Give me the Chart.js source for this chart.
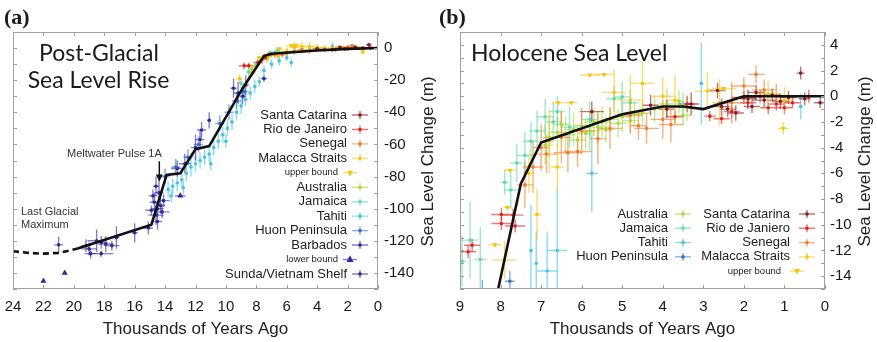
<!DOCTYPE html>
<html>
<head>
<meta charset="utf-8">
<script src="https://cdn.jsdelivr.net/npm/chart.js@4.4.1/dist/chart.umd.min.js"></script>
<style>
body { margin:0; background:#fff; width:877px; height:342px; position:relative; overflow:hidden; font-family:"Liberation Sans", Arial, sans-serif; }
canvas { position:absolute; top:0; }
#ca { left:0; }
#cb { left:440px; }
.lbl { position:absolute; white-space:nowrap; color:#1a1a1a; }
.pl { font-family:"Liberation Serif", serif; font-weight:bold; font-size:22px; }
.big { font-family:Lato, sans-serif; font-size:23px; }
.small { font-size:11px; color:#333; }
</style>
</head>
<body>
<canvas id="ca" width="440" height="342"></canvas>
<canvas id="cb" width="437" height="342"></canvas>
<div class="lbl pl" style="left:4px;top:4px">(a)</div>
<div class="lbl pl" style="left:439px;top:4px">(b)</div>
<div class="lbl big" style="left:0;width:198px;text-align:center;top:38px">Post-Glacial</div>
<div class="lbl big" style="left:0;width:197px;text-align:center;top:65px">Sea Level Rise</div>
<div class="lbl big" style="left:471px;top:38px">Holocene Sea Level</div>
<div class="lbl small" style="left:67px;top:147px">Meltwater Pulse 1A</div>
<div class="lbl small" style="left:21px;top:205px">Last Glacial</div>
<div class="lbl small" style="left:21px;top:218px">Maximum</div>
<script>
// tick labels
var aXTicks = [0, 2, 4, 6, 8, 10, 12, 14, 16, 18, 20, 22, 24];
var aYTicks = [-140, -120, -100, -80, -60, -40, -20, 0];
var bXTicks = [0, 1, 2, 3, 4, 5, 6, 7, 8, 9];
var bYTicks = [-14, -12, -10, -8, -6, -4, -2, 0, 2, 4];

// panel (a): [age ka, level m, age err, level err]
var aSantaCatarina = [[4.0,-0.5,0.3,1],[3.0,-1,0.2,1],[2.5,0.5,0.3,1],[2.2,-0.5,0.3,1],[1.5,0.5,0.3,1],[1.0,0,0.2,1],[0.6,2,0.2,1]];
var aRioDeJaneiro = [[8.8,-11,0.35,2],[8.5,-11,0.3,2],[7.9,-9,0.3,1.5],[7.4,-6,0.2,1],[3.5,-1,0.2,1],[2.8,-1,0.2,1],[2.0,-0.5,0.3,1],[1.5,0,0.2,1],[1.0,-0.3,0.3,1],[0.5,0,0.2,1]];
var aSenegal = [[7.6,-7,0.3,3],[7.2,-4,0.3,2],[7.0,-4,0.3,2],[6.8,-4,0.3,2],[6.3,-4,0.35,2],[6.0,-3,0.3,2],[5.5,-2,0.3,2],[5.0,-1,0.3,2],[4.5,-1.5,0.3,2],[4.0,-0.5,0.3,2],[3.0,-1,0.3,1],[2.5,-0.5,0.3,1],[2.0,0.5,0.3,1],[1.7,1.5,0.3,1],[1.0,0,0.3,1]];
var aMalacca = [[9.1,-19,0.2,3],[8.3,-15,0.3,3],[7.3,-7,0.2,2],[6.6,-5,0.2,2],[6.0,-2,0.3,3],[5.5,0.5,0.3,3],[5.0,1,0.3,3],[4.5,1,0.3,3],[4.0,0.5,0.3,2],[3.5,0,0.3,2],[3.0,0,0.3,2],[2.5,0.5,0.3,1],[1.4,0,0.3,1]];
var aUpperBound = [[8.1,-11.5,0.2,0],[7.8,-6,0.2,0],[6.5,-0.5,0.2,0],[5.7,1.6,0.3,0],[5.4,1.7,0.3,0],[1.0,-2.5,0.15,0]];
var aAustralia = [[8.3,-13,0.1,3],[7.8,-8,0.15,3],[7.2,-5,0.15,2],[6.5,-3,0.2,2],[6.0,-2.5,0.2,2],[5.5,-2,0.2,2],[5.0,-1.5,0.2,2],[4.5,-1,0.2,1],[3.6,-0.5,0.2,1]];
var aJamaica = [[9.0,-22,0.1,3],[8.5,-15,0.15,3],[8.0,-10,0.15,3],[7.5,-6,0.15,3],[7.1,-3,0.15,2],[6.8,-3,0.1,2],[6.6,-1.5,0.2,2],[5.0,-1,0.2,2]];
var aTahiti = [[13.8,-88,0.1,5],[13.6,-92,0.1,4],[13.5,-86,0.1,5],[13.2,-84,0.1,5],[12.9,-82,0.1,5],[12.8,-87,0.1,4],[12.6,-78,0.1,5],[12.3,-74,0.1,6],[12.0,-72,0.1,5],[11.7,-70,0.1,5],[11.4,-68,0.1,5],[11.1,-66,0.1,5],[11.0,-72,0.1,4],[10.8,-62,0.1,5],[10.5,-58,0.1,5],[10.2,-54,0.1,5],[10.0,-58,0.1,4],[9.9,-50,0.1,5],[9.6,-46,0.1,5],[9.3,-40,0.1,5],[9.0,-36,0.1,5],[8.7,-32,0.1,4],[8.4,-28,0.1,4],[8.1,-24,0.1,4],[7.8,-21,0.1,3],[7.5,-14,0.1,3],[7.0,-10,0.1,3],[6.5,-8,0.1,3],[6.0,-6,0.1,2],[5.7,-9,0.1,3],[3.0,1,0.05,3]];
var aHuon = [[14.0,-80,0.3,5],[13.3,-74,0.3,5],[12.5,-68,0.3,5],[11.8,-60,0.3,5],[10.4,-47,0.3,5],[9.8,-40,0.3,5],[9.3,-33,0.3,5],[8.8,-27,0.3,5]];
var aBarbados = [[14.8,-92,0.3,4],[14.7,-96,0.3,6],[14.6,-86,0.2,6],[14.6,-104,0.5,6],[14.5,-100,0.4,5],[14.5,-108,0.3,5],[14.4,-90,0.3,8],[14.3,-98,0.3,5],[14.2,-102,0.5,4],[14.9,-101,0.4,3],[14.1,-95,0.4,4],[15.1,-112,0.3,4],[16.0,-115,0.2,6],[17.2,-118,0.2,7],[17.9,-122,0.5,5],[18.5,-120,0.6,7],[18.9,-128,0.4,3],[19.2,-123,0.3,4],[13.2,-75,0.4,5],[12.7,-72,0.4,6],[12.0,-62,0.3,8],[11.7,-57,0.3,6],[11.6,-51,0.3,5],[11.1,-45,0.1,5],[9.5,-25,0.2,6],[9.2,-28,0.3,7],[8.9,-30,0.2,5],[8.7,-23,0.2,6],[7.5,-19,0.2,2]];
var aLowerBound = [[22.0,-145,0,0],[20.6,-140,0,0],[13.0,-92,0.35,0]];
var aSunda = [[21.0,-122.5,0.3,5],[19.0,-125,0.5,4],[18.2,-121,0.4,4],[17.5,-123,0.5,3],[18.2,-128,0.8,2]];
var aCurveAge = [19.8, 14.9, 13.9, 13.0, 12.0, 11.1, 8.9, 7.5, 7.0, 4.0, 2.0, 0];
var aCurveLevel = [-125, -110, -79, -78, -63, -61, -25, -5, -3.5, -1.5, -0.5, 0];
var aDashAge = [24, 23, 22, 21, 19.8];
var aDashLevel = [-126.5, -127.5, -128, -127.5, -125];

// panel (b)
var bAustralia = [[6.9,-3.8,0.2,1.5],[6.8,-3.2,0.2,1.5],[6.6,-2.8,0.2,1.2],[6.5,-2.2,0.2,1.2],[6.4,-3.0,0.25,1.4],[6.2,-2.6,0.2,1.3],[6.1,-3.4,0.2,1.2],[6.0,-2.3,0.2,1.0],[5.9,-2.9,0.2,1.2],[5.8,-2.7,0.25,1.5],[5.7,-2.0,0.2,1.1],[5.6,-2.4,0.25,1.3],[5.5,-2.0,0.2,1.2],[5.4,-2.6,0.2,1.0],[5.3,-1.8,0.2,1.0],[5.1,-2.1,0.2,1.1],[5.0,-1.6,0.2,1.2],[4.8,-1.9,0.2,1.0],[4.7,-1.4,0.2,1.0],[4.5,-1.3,0.2,0.9],[4.2,-1.0,0.2,1.0],[3.9,-0.6,0.2,1.2],[3.6,-0.4,0.15,0.9],[3.5,-1.5,0.2,0.8],[3.4,-0.9,0.2,1.0]];
var bJamaica = [[8.95,-12.85,0.1,2.0],[8.75,-11.2,0.2,3.0],[8.5,-12.7,0.15,2.5],[7.9,-6.7,0.1,1.0],[7.75,-7.3,0.15,1.5],[7.6,-5.2,0.15,1.5],[7.4,-4.6,0.2,1.8],[7.25,-3.5,0.2,1.5],[7.1,-2.7,0.2,1.6],[6.9,-1.6,0.2,1.4],[6.7,-2.0,0.2,1.5],[6.6,-1.2,0.2,1.2],[6.3,-2.4,0.2,1.6],[5.8,-1.8,0.2,1.4],[5.2,-0.2,0.2,1.0],[5.0,-0.05,0.2,1.2],[4.8,-0.5,0.2,1.0],[3.5,-0.6,0.2,0.9]];
var bTahiti = [[7.25,-12,0.03,3.5],[7.12,-13,0.03,2.5],[6.85,-13.6,0.25,3.0],[6.6,-12.0,0.25,5.0],[5.75,-6.0,0.15,3.0],[3.05,1.0,0.05,3.2],[0.6,-0.8,0.05,1.0]];
var bHuon = [[7.77,-14.4,0.12,0.8],[8.45,-15.5,0.03,1.2]];
var bSantaCatarina = [[5.75,-1.2,0.3,0.8],[4.3,-0.7,0.2,0.8],[3.9,-1.0,0.2,0.7],[3.3,-0.6,0.2,0.9],[2.65,0.45,0.2,0.6],[2.55,-0.8,0.2,0.6],[2.4,-1.0,0.2,0.6],[2.2,-1.3,0.2,0.6],[2.0,-0.1,0.3,0.5],[1.9,-0.2,0.2,0.7],[1.8,-0.8,0.2,0.5],[1.7,0.3,0.2,0.6],[1.5,-0.3,0.3,0.6],[1.3,0.1,0.2,0.5],[1.1,-0.4,0.2,0.6],[0.9,-0.1,0.2,0.5],[0.6,1.8,0.1,0.5],[0.5,-0.2,0.15,0.5],[0.12,-0.5,0.15,0.4]];
var bRioDeJaniero = [[8.8,-12.1,0.2,0.5],[8.7,-11.6,0.2,0.5],[7.98,-9.2,0.25,0.5],[7.98,-9.9,0.25,0.5],[7.69,-9.25,0.25,0.5],[7.64,-10.1,0.25,0.5],[3.7,-1.6,0.2,0.5],[3.4,-0.6,0.2,0.6],[2.84,-1.55,0.15,0.4],[2.55,-1.75,0.2,0.4],[2.3,-1.2,0.2,0.5],[1.9,-0.5,0.2,0.5],[1.6,0.0,0.2,0.5],[1.4,-0.9,0.2,0.5],[1.2,-0.6,0.2,0.5],[1.0,-0.9,0.2,0.5],[0.8,-0.5,0.2,0.4],[0.4,0.0,0.2,0.5]];
var bSenegal = [[7.4,-6.9,0.2,1.8],[7.2,-5.5,0.25,2.0],[7.0,-4.0,0.2,1.8],[6.87,-4.5,0.3,1.5],[6.5,-3.2,0.25,2.0],[6.34,-4.4,0.35,1.5],[6.1,-4.3,0.35,1.2],[6.0,-2.7,0.3,1.8],[5.6,-3.3,0.2,2.0],[5.3,-2.5,0.3,1.6],[4.8,-1.5,0.3,1.4],[4.6,-2.3,0.2,1.1],[4.4,-2.5,0.3,1.2],[4.0,-1.8,0.3,1.5],[3.8,-2.2,0.3,1.4],[2.3,-0.5,0.3,1.6],[2.0,0.8,0.3,0.7],[1.7,1.7,0.2,0.7],[1.5,0.5,0.3,0.8],[1.2,0.0,0.3,1.0]];
var bMalacca = [[7.9,-12.75,0.3,1.5],[7.3,-6.0,0.15,1.5],[7.1,-9.2,0.1,2.0],[6.8,-3.5,0.1,2.5],[6.6,-5.5,0.15,1.8],[5.2,0.3,0.3,1.8],[4.8,-0.3,0.3,2.0],[4.5,1.0,0.3,2.0],[4.0,0.0,0.3,1.5],[3.7,-0.3,0.15,2.0],[2.9,0.4,0.3,1.5],[2.6,-0.5,0.2,1.8],[1.4,0.2,0.3,1.0],[1.0,-0.3,0.2,1.0]];
var bUpperBound = [[8.14,-11.55,0.15,0],[7.83,-8.65,0.1,0],[7.77,-5.75,0.15,0],[6.58,-0.5,0.15,0],[6.26,-0.5,0.15,0],[5.8,1.65,0.25,0],[5.45,1.7,0.25,0],[2.5,0.6,0.3,0],[1.03,-2.5,0.15,0.5]];
var bCurveAge = [8.1, 7.5, 7.0, 5.0, 4.0, 3.5, 3.0, 2.0, 1.0, 0];
var bCurveLevel = [-15.6, -6.8, -3.6, -1.4, -0.8, -0.8, -1.0, 0, 0, 0];

Chart.defaults.font.family = "'Liberation Sans', Arial, sans-serif";
Chart.defaults.color = '#1a1a1a';

function pts(arr) {
    return arr.map(function(p) { return {x: p[0], y: p[1], ex: p[2], ey: p[3]}; });
}
function line(ages, levels) {
    return ages.map(function(a, i) { return {x: a, y: levels[i]}; });
}
function rgba(hex, a) {
    var n = parseInt(hex.slice(1), 16);
    return 'rgba(' + (n >> 16) + ',' + ((n >> 8) & 255) + ',' + (n & 255) + ',' + a + ')';
}
function series(label, arr, color, key, style) {
    style = style || {};
    return {
        type: 'scatter', label: label, data: pts(arr), key: key, small: !!style.small,
        barColor: rgba(color, 0.6), backgroundColor: color, borderColor: color,
        pointStyle: style.shape || 'circle', pointRadius: style.r || 1.8,
        pointRotation: style.rot || 0, pointBorderWidth: 0, order: 1
    };
}
function curve(data, dash) {
    return {
        type: 'scatter', showLine: true, data: data, borderColor: '#111', borderWidth: 2.6,
        borderDash: dash || [], pointRadius: 0, order: 0, clip: 0
    };
}

var errorBars = {
    id: 'errorBars',
    beforeDatasetsDraw: function(chart) {
        var ctx = chart.ctx, xs = chart.scales.x, ys = chart.scales.y, a = chart.chartArea;
        ctx.save();
        ctx.beginPath();
        ctx.rect(a.left, a.top, a.right - a.left, a.bottom - a.top);
        ctx.clip();
        ctx.lineWidth = 1.4;
        chart.data.datasets.forEach(function(ds) {
            if (!ds.barColor) return;
            ctx.strokeStyle = ds.barColor;
            ds.data.forEach(function(p) {
                var px = xs.getPixelForValue(p.x), py = ys.getPixelForValue(p.y);
                ctx.beginPath();
                if (p.ex) { ctx.moveTo(xs.getPixelForValue(p.x - p.ex), py); ctx.lineTo(xs.getPixelForValue(p.x + p.ex), py); }
                if (p.ey) { ctx.moveTo(px, ys.getPixelForValue(p.y - p.ey)); ctx.lineTo(px, ys.getPixelForValue(p.y + p.ey)); }
                ctx.stroke();
            });
        });
        ctx.restore();
    }
};

// grey box with small inward ticks
var frame = {
    id: 'frame',
    afterDatasetsDraw: function(chart, args, opt) {
        var ctx = chart.ctx, a = chart.chartArea, xs = chart.scales.x, ys = chart.scales.y, v, p;
        ctx.save();
        ctx.strokeStyle = '#a0a0a0';
        ctx.lineWidth = 1;
        ctx.strokeRect(a.left + 0.5, a.top + 0.5, a.right - a.left - 1, a.bottom - a.top - 1);
        ctx.beginPath();
        for (v = xs.min; v <= xs.max + 1e-9; v += opt.xStep) {
            p = Math.round(xs.getPixelForValue(v)) + 0.5;
            ctx.moveTo(p, a.top); ctx.lineTo(p, a.top + 4);
            ctx.moveTo(p, a.bottom); ctx.lineTo(p, a.bottom - 4);
        }
        for (v = Math.ceil(ys.min / opt.yStep) * opt.yStep; v <= ys.max + 1e-9; v += opt.yStep) {
            p = Math.round(ys.getPixelForValue(v)) + 0.5;
            ctx.moveTo(a.left, p); ctx.lineTo(a.left + 4, p);
            ctx.moveTo(a.right, p); ctx.lineTo(a.right - 4, p);
        }
        ctx.stroke();
        ctx.restore();
    }
};

// y title on the right, reading bottom to top
var sideTitle = {
    id: 'sideTitle',
    afterDraw: function(chart, args, opt) {
        var ctx = chart.ctx, a = chart.chartArea;
        ctx.save();
        ctx.translate(opt.x, (a.top + a.bottom) / 2 + 1);
        ctx.rotate(-Math.PI / 2);
        ctx.font = "17px 'Liberation Sans', Arial, sans-serif";
        ctx.fillStyle = '#222';
        ctx.textAlign = 'center';
        ctx.textBaseline = 'middle';
        ctx.fillText(opt.text, 0, 0);
        ctx.restore();
    }
};

function marker(ctx, ds, x, y) {
    var r = ds.pointRadius;
    ctx.fillStyle = ds.backgroundColor;
    ctx.beginPath();
    if (ds.pointStyle === 'triangle') {
        var s = ds.pointRotation ? -1 : 1;
        ctx.moveTo(x, y - s * r * 1.2);
        ctx.lineTo(x - r, y + s * r * 0.7);
        ctx.lineTo(x + r, y + s * r * 0.7);
        ctx.closePath();
    } else {
        ctx.arc(x, y, r, 0, Math.PI * 2);
    }
    ctx.fill();
}

var keyBox = {
    id: 'keyBox',
    afterDraw: function(chart, args, opt) {
        var ctx = chart.ctx;
        ctx.save();
        ctx.textAlign = 'right';
        ctx.textBaseline = 'middle';
        chart.data.datasets.forEach(function(ds) {
            if (!ds.key) return;
            var col = opt.cols[ds.key[0]];
            var y = col.top + ds.key[1] * opt.rowGap;
            var tx = col.textRight, mx = col.markX, half = 8;
            if (ds.small) { tx -= 9; mx -= 10; half = 7; }
            ctx.font = (ds.small ? '9.5px' : '13px') + " 'Liberation Sans', Arial, sans-serif";
            ctx.fillStyle = '#222';
            ctx.fillText(ds.label, tx, y);
            ctx.strokeStyle = ds.barColor;
            ctx.lineWidth = 1.4;
            ctx.beginPath();
            ctx.moveTo(mx - half, y); ctx.lineTo(mx + half, y);
            if (!ds.small) { ctx.moveTo(mx, y - 4); ctx.lineTo(mx, y + 4); }
            ctx.stroke();
            marker(ctx, ds, mx, y);
        });
        ctx.restore();
    }
};

var arrowNote = {
    id: 'arrowNote',
    afterDatasetsDraw: function(chart, args, opt) {
        if (!opt.from) return;
        var ctx = chart.ctx, xs = chart.scales.x, ys = chart.scales.y;
        var x = xs.getPixelForValue(opt.from[0]);
        var y0 = ys.getPixelForValue(opt.from[1]), y1 = ys.getPixelForValue(opt.to[1]);
        ctx.save();
        ctx.strokeStyle = '#111'; ctx.fillStyle = '#111'; ctx.lineWidth = 1.5;
        ctx.beginPath(); ctx.moveTo(x, y0); ctx.lineTo(x, y1 - 5); ctx.stroke();
        ctx.beginPath(); ctx.moveTo(x - 3.5, y1 - 7); ctx.lineTo(x + 3.5, y1 - 7); ctx.lineTo(x, y1); ctx.closePath(); ctx.fill();
        ctx.restore();
    }
};

function axes(xMin, xMax, xTicks, yMin, yMax, yTicks, yW, yPad) {
    return {
        x: {
            type: 'linear', reverse: true, min: xMin, max: xMax,
            afterBuildTicks: function(s) { s.ticks = xTicks.map(function(v) { return {value: v}; }); },
            afterFit: function(s) { s.height = 53; },
            ticks: { font: {size: 15}, padding: 9, maxRotation: 0, color: '#1a1a1a' },
            grid: { display: false, drawTicks: false }, border: { display: false },
            title: { display: true, text: 'Thousands of Years Ago', font: {size: 17}, color: '#222', padding: {top: 2, bottom: 2} }
        },
        y: {
            type: 'linear', position: 'right', min: yMin, max: yMax,
            afterBuildTicks: function(s) { s.ticks = yTicks.map(function(v) { return {value: v}; }); },
            afterFit: function(s) { s.width = yW; },
            ticks: { font: {size: 15}, padding: yPad, color: '#1a1a1a' },
            grid: { display: false, drawTicks: false }, border: { display: false }
        }
    };
}

new Chart(document.getElementById('ca'), {
    data: {
        datasets: [
            curve(line(aCurveAge, aCurveLevel)),
            curve(line(aDashAge, aDashLevel), [6, 4]),
            series('Santa Catarina', aSantaCatarina, '#8b1c1c', [0, 0]),
            series('Rio de Janeiro', aRioDeJaneiro, '#e3201c', [0, 1]),
            series('Senegal', aSenegal, '#f07b2a', [0, 2]),
            series('Malacca Straits', aMalacca, '#f5c40f', [0, 3]),
            series('upper bound', aUpperBound, '#f5c40f', [0, 4], {shape: 'triangle', rot: 180, r: 3, small: true}),
            series('Australia', aAustralia, '#a6d63c', [0, 5]),
            series('Jamaica', aJamaica, '#5fd9a8', [0, 6]),
            series('Tahiti', aTahiti, '#45c3e0', [0, 7]),
            series('Huon Peninsula', aHuon, '#2f6fcf', [0, 8]),
            series('Barbados', aBarbados, '#2b2b9e', [0, 9]),
            series('lower bound', aLowerBound, '#2b2b9e', [0, 10], {shape: 'triangle', r: 3.5, small: true}),
            series('Sunda/Vietnam Shelf', aSunda, '#3a2886', [0, 11])
        ]
    },
    options: {
        responsive: false, animation: false, events: [],
        layout: { padding: {left: 13, top: 32, right: 0, bottom: 0} },
        scales: axes(0, 24, aXTicks, -150, 10, aYTicks, 62, 6),
        plugins: {
            legend: {display: false}, tooltip: {enabled: false},
            frame: {xStep: 2, yStep: 10},
            sideTitle: {x: 428, text: 'Sea Level Change (m)'},
            keyBox: {rowGap: 14.45, cols: [{textRight: 347, markX: 360, top: 115}]},
            arrowNote: {from: [14.38, -70.5], to: [14.38, -83]}
        }
    },
    plugins: [errorBars, frame, sideTitle, keyBox, arrowNote]
});

new Chart(document.getElementById('cb'), {
    data: {
        datasets: [
            curve(line(bCurveAge, bCurveLevel)),
            series('Australia', bAustralia, '#a6d63c', [0, 0]),
            series('Jamaica', bJamaica, '#5fd9a8', [0, 1]),
            series('Tahiti', bTahiti, '#45c3e0', [0, 2]),
            series('Huon Peninsula', bHuon, '#2f6fcf', [0, 3]),
            series('Santa Catarina', bSantaCatarina, '#8b1c1c', [1, 0]),
            series('Rio de Janiero', bRioDeJaniero, '#e3201c', [1, 1]),
            series('Senegal', bSenegal, '#f07b2a', [1, 2]),
            series('Malacca Straits', bMalacca, '#f5c40f', [1, 3]),
            series('upper bound', bUpperBound, '#f5c40f', [1, 4], {shape: 'triangle', rot: 180, r: 3, small: true})
        ]
    },
    options: {
        responsive: false, animation: false, events: [],
        layout: { padding: {left: 20, top: 32, right: 0, bottom: 0} },
        scales: axes(0, 9, bXTicks, -15, 5, bYTicks, 52, 5),
        plugins: {
            legend: {display: false}, tooltip: {enabled: false},
            frame: {xStep: 1, yStep: 1},
            sideTitle: {x: 425, text: 'Sea Level Change (m)'},
            keyBox: {rowGap: 14.3, cols: [{textRight: 228, markX: 243, top: 214}, {textRight: 350, markX: 367, top: 214}]},
            arrowNote: {}
        }
    },
    plugins: [errorBars, frame, sideTitle, keyBox, arrowNote]
});
</script>
</body>
</html>
